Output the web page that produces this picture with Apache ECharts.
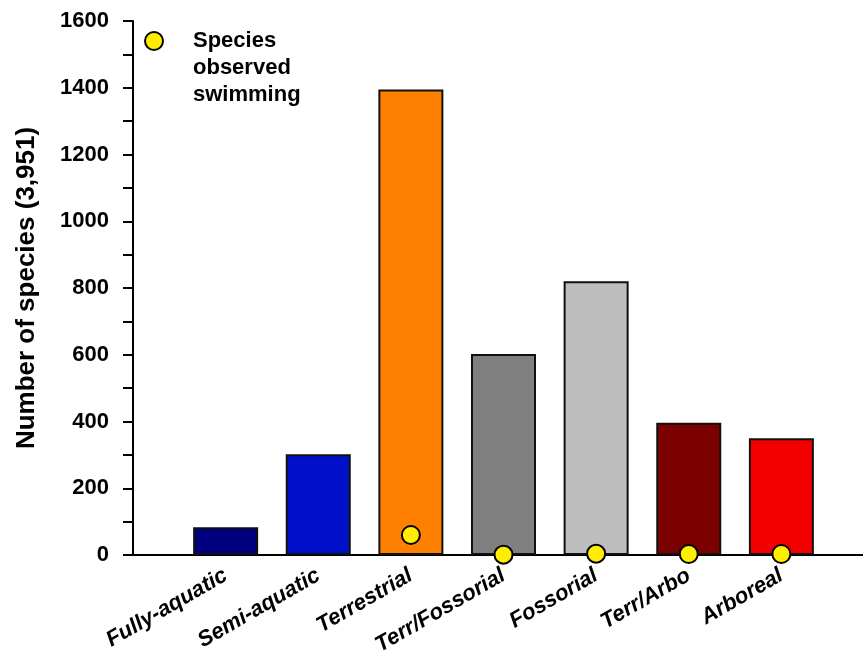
<!DOCTYPE html>
<html>
<head>
<meta charset="utf-8">
<script src="https://cdn.jsdelivr.net/npm/echarts@6/dist/echarts.min.js"></script>
<style>html,body{margin:0;padding:0;background:#fff;}#c{width:863px;height:660px;}</style>
</head>
<body>
<div id="c"></div>
<script>
const categories = ['Fully-aquatic', 'Semi-aquatic', 'Terrestrial', 'Terr/Fossorial', 'Fossorial', 'Terr/Arbo', 'Arboreal'];
const speciesCounts = [83, 302, 1395, 602, 820, 396, 350];
const swimmingCounts = [null, null, 60, 1, 4, 3, 3];
const barColors = ['#000080', '#0010C8', '#FF8000', '#808080', '#BEBEBE', '#7B0000', '#F20000'];
const yTicks = [0, 200, 400, 600, 800, 1000, 1200, 1400, 1600];
const legendLines = ['Species', 'observed', 'swimming'];

const chart = echarts.init(document.getElementById('c'), null, {renderer: 'canvas'});
const font = 'Liberation Sans, Arial, sans-serif';
const xData = [''].concat(categories).concat(['']);
const barData = ['-'].concat(speciesCounts.map((v, i) => ({value: v, itemStyle: {color: barColors[i]}}))).concat(['-']);
const dotData = ['-'].concat(swimmingCounts.map(v => v == null ? '-' : v)).concat(['-']);

chart.setOption({
  animation: false,
  backgroundColor: '#fff',
  grid: {left: 133, top: 21, bottom: 105, right: -11, containLabel: false, outerBoundsMode: 'none'},
  xAxis: {
    type: 'category',
    data: xData,
    boundaryGap: false,
    axisLine: {lineStyle: {color: '#000', width: 2}},
    axisTick: {show: false},
    axisLabel: {
      interval: 0, rotate: 30, margin: 19,
      color: '#000', fontFamily: font, fontWeight: 'bold', fontStyle: 'italic', fontSize: 22
    },
    splitLine: {show: false}
  },
  yAxis: {
    type: 'value',
    min: 0, max: 1600, interval: 100,
    name: 'Number of species (3,951)',
    nameLocation: 'middle', nameGap: 93,
    nameTextStyle: {color: '#000', fontFamily: font, fontWeight: 'bold', fontSize: 26},
    axisLine: {show: true, lineStyle: {color: '#000', width: 2}},
    axisTick: {show: true, inside: false, length: 10, lineStyle: {color: '#000', width: 2}},
    axisLabel: {
      margin: 24, color: '#000', fontFamily: font, fontWeight: 'bold', fontSize: 22,
      formatter: v => yTicks.indexOf(v) >= 0 ? String(v) : ''
    },
    splitLine: {show: false}
  },
  series: [
    {
      type: 'bar', data: barData, barWidth: 65,
      itemStyle: {borderColor: '#111', borderWidth: 2},
      z: 2
    },
    {
      type: 'scatter', data: dotData, symbol: 'circle', symbolSize: 18, clip: false,
      itemStyle: {color: '#FFEE00', borderColor: '#000', borderWidth: 2, opacity: 1},
      z: 5
    }
  ],
  graphic: [
    {type: 'circle', left: 144, top: 31, shape: {r: 9}, style: {fill: '#FFEE00', stroke: '#000', lineWidth: 2}, z: 10},
    {type: 'text', left: 193, top: 27, style: {text: legendLines.join('\n'), fill: '#000', font: 'bold 22px ' + font, lineHeight: 27}, z: 10}
  ]
});
</script>
</body>
</html>
